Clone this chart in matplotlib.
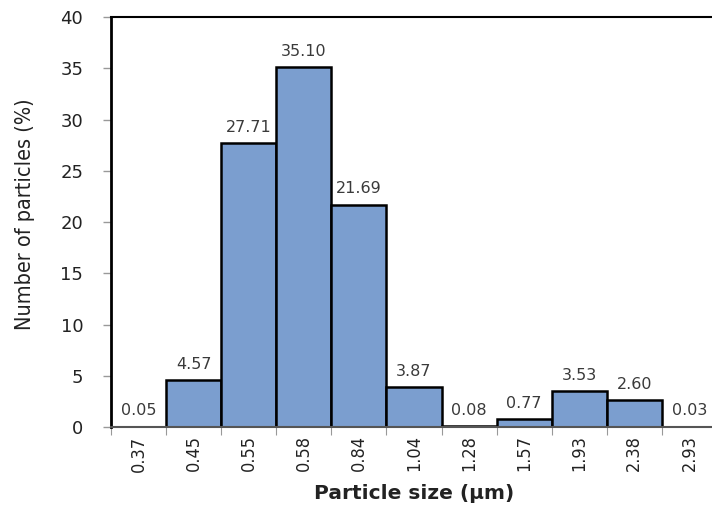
import numpy as np
import matplotlib
matplotlib.use("Agg")
import matplotlib.pyplot as plt
from matplotlib import font_manager

# -----------------------------
# Data
# -----------------------------
sizes = ['0.37', '0.45', '0.55', '0.58', '0.84', '1.04', '1.28', '1.57', '1.93', '2.38', '2.93']
percent = [0.05, 4.57, 27.71, 35.10, 21.69, 3.87, 0.08, 0.77, 3.53, 2.60, 0.03]

bar_color = '#7b9ecf'

# narrow font for the rotated labels, like the original
narrow = font_manager.FontProperties(family='DejaVu Sans', stretch='condensed')

fig = plt.figure(figsize=(7.12, 5.14), dpi=100)
ax = fig.add_axes([0.156, 0.169, 0.851, 0.798])

x = np.arange(len(sizes))
ax.bar(x, percent, width=1.0, color=bar_color, edgecolor='black', linewidth=1.8)

for xi, v in zip(x, percent):
    ax.annotate(f'{v:.2f}', (xi, v), xytext=(0, 6), textcoords='offset points',
                ha='center', va='bottom', fontsize=11.5, color='#3a3a3a')

ax.set_xlim(-0.5, len(sizes) - 0.5)
ax.set_ylim(0, 40)
ax.set_yticks(range(0, 41, 5))
ax.tick_params(axis='y', labelsize=13, colors='#999999', labelcolor='#222222',
               length=6, width=1, pad=14)

# ticks between bars, labels centred under bars
ax.set_xticks(np.arange(-0.5, len(sizes) - 0.4, 1.0))
ax.set_xticklabels([])
ax.set_xticks(x, minor=True)
ax.set_xticklabels(sizes, minor=True, rotation=90, color='#222222')
for lab in ax.get_xticklabels(minor=True):
    lab.set_fontproperties(narrow)
    lab.set_fontsize(13)
ax.tick_params(axis='x', which='major', length=6, colors='#999999')
ax.tick_params(axis='x', which='minor', length=0, pad=6)

ax.spines['left'].set_linewidth(2)
ax.spines['top'].set_linewidth(1.5)
ax.spines['right'].set_visible(False)
ax.spines['bottom'].set_color('#555555')
ax.spines['bottom'].set_linewidth(1.5)

ax.set_xlabel('Particle size (μm)', fontsize=14.5, fontweight='bold', color='#222222',
              labelpad=9)
ylab = ax.set_ylabel('Number of particles (%)', color='#222222')
ylab.set_fontproperties(narrow)
ylab.set_fontsize(15.5)
ax.yaxis.set_label_coords(-0.125, 0.52)

fig.savefig('out.png', dpi=100)
